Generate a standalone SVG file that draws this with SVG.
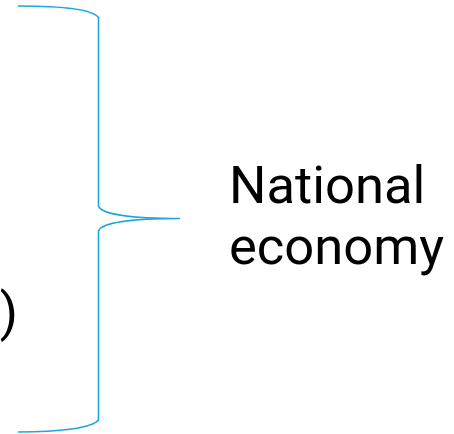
<svg xmlns="http://www.w3.org/2000/svg" width="454" height="434" viewBox="0 0 454 434">
<style>
.brace{fill:none;stroke:#1aa7e0;stroke-width:1.6}
.t{font-family:Roboto,"Liberation Sans",sans-serif;font-size:52.5px;fill:#000}
</style>
<rect width="454" height="434" fill="#fff"/>
<g id="connectors">
<path class="brace" d="M18,6 C60,6 92,9 98.5,17.5 L98.5,206 C101,214 130,218.5 180,218.5 C130,218.5 101,223 98.5,231 L98.5,420 C92,428 60,432 18,432"/>
</g>
<g id="label">
<text class="t" x="229" y="203">National</text>
<text class="t" x="229" y="264">economy</text>
</g>
<g id="paren">
<text class="t" x="18" y="330" text-anchor="end">)</text>
</g>
</svg>
